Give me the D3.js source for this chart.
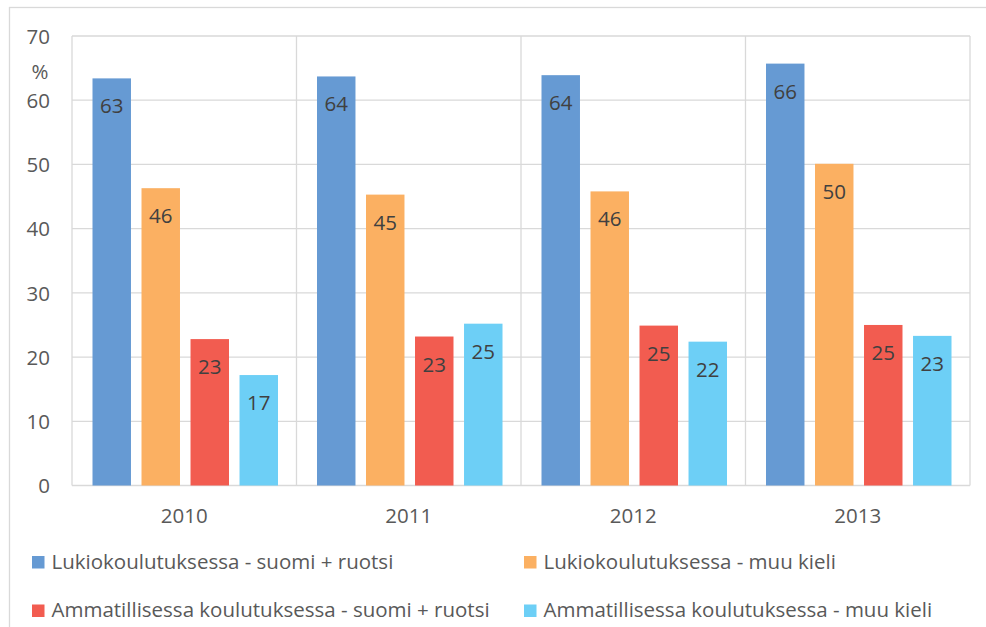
<!DOCTYPE html>
<html>
<head>
<meta charset="utf-8">
<script src="https://cdn.jsdelivr.net/npm/d3@7"></script>
<style>
  body { margin: 0; background: #fff; }
  svg { display: block; font-family: "Open Sans", sans-serif; }
</style>
</head>
<body>
<svg id="chart" width="986" height="627"></svg>
<script>
// data
const years = ["2010", "2011", "2012", "2013"];
const series = [
  "Lukiokoulutuksessa - suomi + ruotsi",
  "Lukiokoulutuksessa - muu kieli",
  "Ammatillisessa koulutuksessa - suomi + ruotsi",
  "Ammatillisessa koulutuksessa - muu kieli"
];
const lukioSR   = [63.4, 63.7, 63.9, 65.7];
const lukioMuu  = [46.3, 45.3, 45.8, 50.1];
const ammSR     = [22.8, 23.2, 24.9, 25.0];
const ammMuu    = [17.2, 25.2, 22.4, 23.3];
const yTicks = [0, 10, 20, 30, 40, 50, 60, 70];
const colours = ["#669ad3", "#fbb062", "#f25c50", "#6dcff6"];

const values = [lukioSR, lukioMuu, ammSR, ammMuu];
const rows = [];
years.forEach((yr, i) => values.forEach((v, s) => rows.push({year: yr, s: s, v: v[i]})));

const svg = d3.select("#chart");
const plotLeft = 72, plotRight = 970, plotTop = 36, plotBottom = 485.5;
const grid = "#d9d9d9";
const fs = 20.5;

// outer frame (runs off the right and bottom)
svg.append("rect")
    .attr("x", 9.5).attr("y", 7.5)
    .attr("width", 1000).attr("height", 700)
    .attr("fill", "none").attr("stroke", grid).attr("stroke-width", 1.3);

const x = d3.scaleBand().domain(years).range([plotLeft, plotRight]);
const xs = d3.scaleBand().domain(d3.range(series.length))
    .range([20.5, x.bandwidth() - 18.5]).paddingInner(0.215);
const y = d3.scaleLinear().domain([0, 70]).range([plotBottom, plotTop]);

// horizontal gridlines
svg.append("g")
  .selectAll("line").data(yTicks).join("line")
    .attr("x1", plotLeft).attr("x2", plotRight)
    .attr("y1", d => y(d)).attr("y2", d => y(d))
    .attr("stroke", grid).attr("stroke-width", 1.3);

// vertical separators between years
svg.append("g")
  .selectAll("line").data([...years.map(d => x(d)), plotRight]).join("line")
    .attr("x1", d => d).attr("x2", d => d)
    .attr("y1", plotTop).attr("y2", plotBottom)
    .attr("stroke", grid).attr("stroke-width", 1.3);

// y axis labels
const yAxis = svg.append("g")
    .attr("transform", `translate(50,0)`)
    .call(d3.axisLeft(y).tickValues(yTicks).tickSize(0).tickPadding(0));
yAxis.select(".domain").remove();
yAxis.selectAll("text")
    .attr("fill", "#595959").attr("font-size", fs)
    .attr("font-family", "Open Sans, sans-serif").attr("dy", "0.35em");

svg.append("text")
    .attr("x", 40).attr("y", 79)
    .attr("text-anchor", "middle")
    .attr("fill", "#595959").attr("font-size", fs)
    .text("%");

// x axis labels
const xAxis = svg.append("g")
    .attr("transform", `translate(0,${plotBottom})`)
    .call(d3.axisBottom(x).tickSize(0).tickPadding(0));
xAxis.select(".domain").remove();
xAxis.selectAll("text")
    .attr("fill", "#595959").attr("font-size", fs)
    .attr("font-family", "Open Sans, sans-serif")
    .attr("dy", null).attr("y", 37.5);

// bars
svg.append("g")
  .selectAll("rect").data(rows).join("rect")
    .attr("x", d => x(d.year) + xs(d.s))
    .attr("width", xs.bandwidth())
    .attr("y", d => y(d.v))
    .attr("height", d => y(0) - y(d.v))
    .attr("fill", d => colours[d.s]);

// value labels
svg.append("g")
  .selectAll("text").data(rows).join("text")
    .attr("x", d => x(d.year) + xs(d.s) + xs.bandwidth() / 2)
    .attr("y", d => y(d.v) + 35)
    .attr("text-anchor", "middle")
    .attr("fill", "#404040").attr("font-size", fs)
    .text(d => Math.round(d.v));

// legend
const legPos = [[32, 556], [524, 556], [32, 604.5], [524, 604.5]];
const leg = svg.append("g")
  .selectAll("g").data(series).join("g")
    .attr("transform", (d, i) => `translate(${legPos[i][0]},${legPos[i][1]})`);
leg.append("rect")
    .attr("width", 12.5).attr("height", 12.5)
    .attr("fill", (d, i) => colours[i]);
leg.append("text")
    .attr("x", 19.5).attr("y", 12.5)
    .attr("fill", "#595959").attr("font-size", fs)
    .text(d => d);
</script>
</body>
</html>
